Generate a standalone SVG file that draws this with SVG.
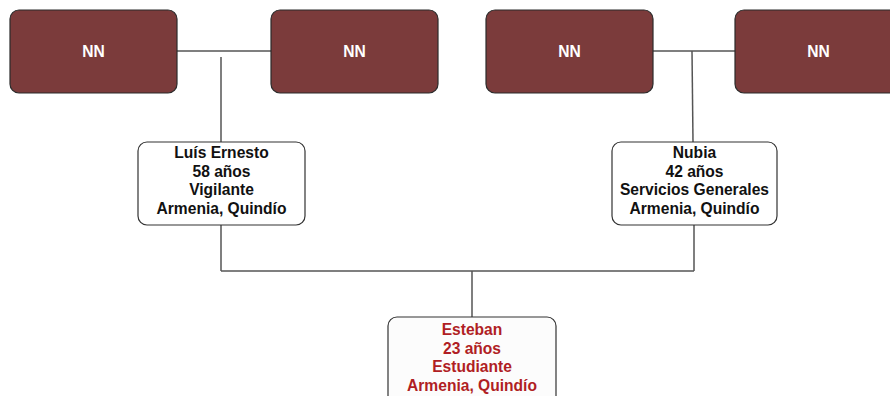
<svg xmlns="http://www.w3.org/2000/svg" width="890" height="396" viewBox="0 0 890 396">
<style>
.nn rect{fill:#7b3b3b;stroke:#2b2b2b;stroke-width:1.2}
.nn text{fill:#ffffff;font-family:"Liberation Sans",Arial,sans-serif;font-weight:bold;font-size:15.6px;text-anchor:middle}
.p rect{fill:#ffffff;stroke:#333333;stroke-width:1.2}
.p text{fill:#111111;font-family:"Liberation Sans",Arial,sans-serif;font-weight:bold;font-size:15.6px;text-anchor:middle}
.me rect{fill:#fcfcfc}
.me text{fill:#b01e24}
.c line{stroke:#555555;stroke-width:1.5;fill:none}
</style>
<g class="c" id="connectors">
<line x1="177" y1="51" x2="271" y2="51"/>
<line x1="221" y1="57" x2="221" y2="142"/>
<line x1="653" y1="51" x2="735" y2="51"/>
<line x1="692" y1="51" x2="693" y2="142"/>
<line x1="221" y1="225" x2="221" y2="271"/>
<line x1="694" y1="225" x2="694" y2="271"/>
<line x1="221" y1="271" x2="694" y2="271"/>
<line x1="472" y1="271" x2="472" y2="317"/>
</g>
<g class="nn" id="nn1"><rect x="10" y="10" width="167" height="83" rx="9"/><text x="93.5" y="57">NN</text></g>
<g class="nn" id="nn2"><rect x="271" y="10" width="167" height="83" rx="9"/><text x="354.5" y="57">NN</text></g>
<g class="nn" id="nn3"><rect x="486" y="10" width="167" height="83" rx="9"/><text x="569.5" y="57">NN</text></g>
<g class="nn" id="nn4"><rect x="735" y="10" width="167" height="83" rx="9"/><text x="818.5" y="57">NN</text></g>
<g class="p" id="luis"><rect x="138" y="142" width="167" height="83" rx="9"/>
<text x="221.5" y="158">Luís Ernesto</text><text x="221.5" y="176.5">58 años</text><text x="221.5" y="195">Vigilante</text><text x="221.5" y="213.5">Armenia, Quindío</text></g>
<g class="p" id="nubia"><rect x="612" y="142" width="165" height="83" rx="9"/>
<text x="694.5" y="158">Nubia</text><text x="694.5" y="176.5">42 años</text><text x="694.5" y="195">Servicios Generales</text><text x="694.5" y="213.5">Armenia, Quindío</text></g>
<g class="p me" id="esteban"><rect x="388" y="317" width="168" height="90" rx="9"/>
<text x="472" y="335">Esteban</text><text x="472" y="353.5">23 años</text><text x="472" y="372">Estudiante</text><text x="472" y="390.5">Armenia, Quindío</text></g>
</svg>
